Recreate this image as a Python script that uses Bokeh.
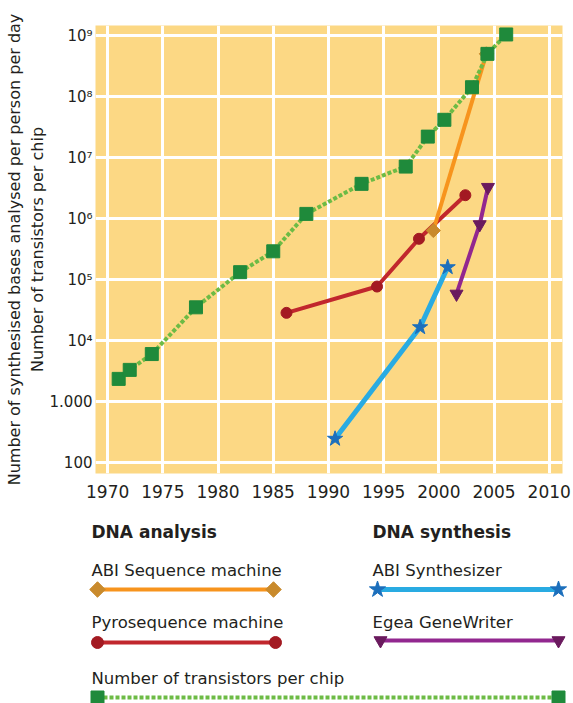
from bokeh.plotting import figure
from bokeh.models import Range1d, FixedTicker
from bokeh.embed import file_html
from bokeh.resources import INLINE
from bokeh.core.properties import value

FONT = "DejaVu Sans"
TXT = "#231f20"

# ---------------- data ----------------
transistor_year = [1971, 1972, 1974, 1978, 1982, 1985, 1988, 1993, 1997, 1999, 2000.5, 2003, 2004.4, 2006.1]
transistor_count = [2350, 3300, 6000, 35000, 132000, 290000, 1190000, 3700000, 7100000,
                    22000000, 41500000, 142000000, 500000000, 1040000000]

abi_seq_year = [1999.5, 2004.3]
abi_seq_val = [635000, 500000000]

pyro_year = [1986.2, 1994.4, 1998.2, 2002.4]
pyro_val = [28400, 76700, 465000, 2410000]

abi_syn_year = [1990.6, 1998.3, 2000.8]
abi_syn_val = [245, 16500, 159000]

egea_year = [2001.6, 2003.7, 2004.45]
egea_val = [58000, 798000, 3260000]

x_ticks = [1970, 1975, 1980, 1985, 1990, 1995, 2000, 2005, 2010]
y_ticks = [100, 1000, 10**4, 10**5, 10**6, 10**7, 10**8, 10**9]
y_tick_labels = ["100", "1.000", "10⁴", "10⁵", "10⁶", "10⁷", "10⁸", "10⁹"]

y_label_1 = "Number of synthesised bases analysed per person per day"
y_label_2 = "Number of transistors per chip"

legend_headers = ["DNA analysis", "DNA synthesis"]
legend_names = ["ABI Sequence machine", "Pyrosequence machine", "Number of transistors per chip",
                "ABI Synthesizer", "Egea GeneWriter"]

# colours
BG = "#fcd884"
GREEN_LINE = "#6dbb45"
GREEN_MARK = "#1f8a3b"
ORANGE_LINE = "#f7941d"
ORANGE_MARK = "#c98a2c"
RED_LINE = "#c1272d"
RED_MARK = "#a31a22"
BLUE_LINE = "#29abe2"
BLUE_MARK = "#1c6fbc"
PURPLE_LINE = "#92278f"
PURPLE_MARK = "#6a1a5e"

# ---------------- main chart ----------------
p = figure(width=573, height=513,
           x_range=Range1d(1968.9, 2011.2),
           y_range=Range1d(10 ** 1.82, 10 ** 9.164),
           y_axis_type="log",
           output_backend="svg", toolbar_location=None,
           min_border_left=95, min_border_right=11, min_border_top=25, min_border_bottom=40)
p.border_fill_color = "white"
p.outline_line_color = None
p.background_fill_color = BG

p.xaxis.ticker = FixedTicker(ticks=x_ticks)
p.yaxis.ticker = FixedTicker(ticks=y_ticks)
p.yaxis.major_label_overrides = {t: l for t, l in zip(y_ticks, y_tick_labels)}

for ax in (p.xaxis, p.yaxis):
    ax.axis_line_color = None
    ax.major_tick_line_color = None
    ax.minor_tick_line_color = None
    ax.major_tick_out = 0
    ax.major_tick_in = 0
    ax.minor_tick_out = 0
    ax.minor_tick_in = 0
    ax.major_label_text_font = FONT
    ax.major_label_text_color = TXT
    ax.major_label_text_font_style = "normal"

p.xaxis.major_label_text_font_size = "17px"
p.yaxis.major_label_text_font_size = "15px"
p.xaxis.major_label_standoff = 11
p.yaxis.major_label_standoff = 3
p.yaxis.axis_label = y_label_1 + "\n" + y_label_2
p.yaxis.axis_label_text_font = FONT
p.yaxis.axis_label_text_font_size = "16px"
p.yaxis.axis_label_text_font_style = "normal"
p.yaxis.axis_label_text_color = TXT
p.yaxis.axis_label_standoff = 0

for g in (p.xgrid, p.ygrid):
    g.grid_line_color = "white"
    g.grid_line_width = 3
    g.grid_line_alpha = 1.0
    g.minor_grid_line_color = None

# series
p.line(pyro_year, pyro_val, line_color=RED_LINE, line_width=4)
p.scatter(pyro_year, pyro_val, marker="circle", size=11, fill_color=RED_MARK, line_color=RED_MARK)

p.line(abi_syn_year, abi_syn_val, line_color=BLUE_LINE, line_width=5)
p.scatter(abi_syn_year, abi_syn_val, marker="star", size=16, fill_color=BLUE_MARK, line_color=BLUE_MARK)

p.line(egea_year, egea_val, line_color=PURPLE_LINE, line_width=4)
p.scatter(egea_year, egea_val, marker="inverted_triangle", size=13, fill_color=PURPLE_MARK, line_color=PURPLE_MARK)

p.line(abi_seq_year, abi_seq_val, line_color=ORANGE_LINE, line_width=4)
p.scatter(abi_seq_year, abi_seq_val, marker="square", angle=0.785398, size=10,
          fill_color=ORANGE_MARK, line_color=ORANGE_MARK)

p.line(transistor_year, transistor_count, line_color=GREEN_LINE, line_width=4, line_dash="4 2")
p.scatter(transistor_year, transistor_count, marker="square", size=13,
          fill_color=GREEN_MARK, line_color=GREEN_MARK)

# ---------------- legend panel ----------------
L = figure(width=573, height=190, x_range=Range1d(0, 573), y_range=Range1d(190, 0),
           output_backend="svg", toolbar_location=None,
           x_axis_location=None, y_axis_location=None,
           min_border_left=0, min_border_right=0, min_border_top=0, min_border_bottom=0)
L.outline_line_color = None
L.xgrid.visible = False
L.ygrid.visible = False
L.background_fill_color = "white"
L.border_fill_color = "white"

L.text([91, 372], [18, 18], text=legend_headers, text_font=value(FONT), text_font_size="17px",
       text_font_style="bold", text_color=TXT, text_baseline="middle", text_align="left")
L.text([91, 91, 91, 372, 372], [57, 109, 165, 57, 109], text=legend_names, text_font=value(FONT),
       text_font_size="16.5px", text_color=TXT, text_baseline="middle", text_align="left")

# sample: ABI Sequence machine
L.line([97, 273], [76, 76], line_color=ORANGE_LINE, line_width=4)
L.scatter([97, 273], [76, 76], marker="square", angle=0.785398, size=11,
          fill_color=ORANGE_MARK, line_color=ORANGE_MARK)
# sample: Pyrosequence
L.line([97, 275], [129, 129], line_color=RED_LINE, line_width=4)
L.scatter([97, 275], [129, 129], marker="circle", size=12, fill_color=RED_MARK, line_color=RED_MARK)
# sample: transistors
L.line([97, 558], [184, 184], line_color=GREEN_LINE, line_width=4, line_dash="4 2")
L.scatter([97, 558], [184, 184], marker="square", size=13, fill_color=GREEN_MARK, line_color=GREEN_MARK)
# sample: ABI Synthesizer
L.line([377, 558], [76, 76], line_color=BLUE_LINE, line_width=5)
L.scatter([377, 558], [76, 76], marker="star", size=17, fill_color=BLUE_MARK, line_color=BLUE_MARK)
# sample: Egea
L.line([380, 558], [127, 127], line_color=PURPLE_LINE, line_width=4)
L.scatter([380, 558], [127, 127], marker="inverted_triangle", size=13,
          fill_color=PURPLE_MARK, line_color=PURPLE_MARK)

open("out.html", "w").write(file_html([p, L], INLINE))
